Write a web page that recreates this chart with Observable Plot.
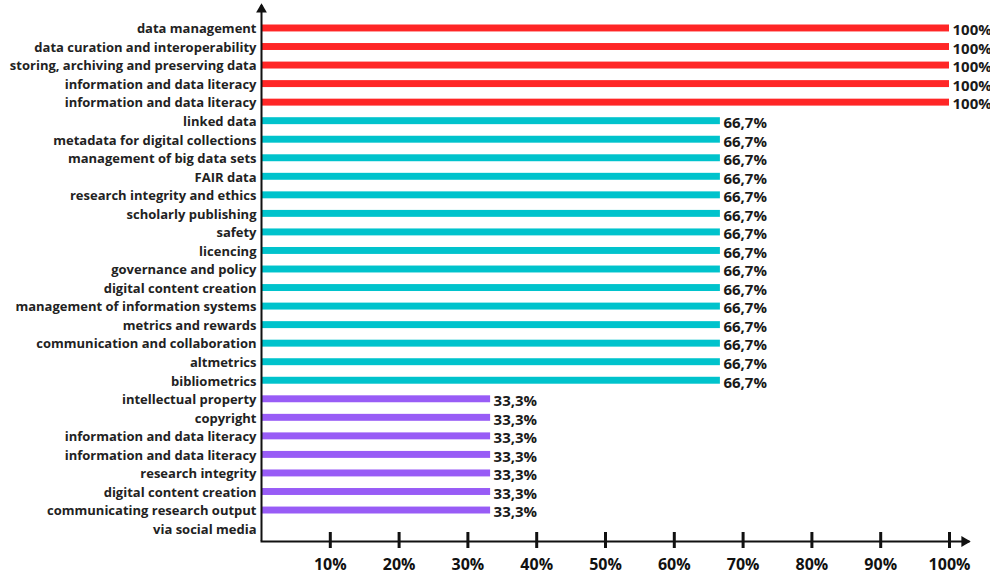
<!DOCTYPE html>
<html>
<head>
<meta charset="utf-8">
<script src="https://cdn.jsdelivr.net/npm/d3@7"></script>
<script src="https://cdn.jsdelivr.net/npm/@observablehq/plot@0.6"></script>
<style>
  html, body { margin: 0; padding: 0; background: #fff; }
  #chart svg { overflow: visible; }
</style>
</head>
<body>
<div id="chart"></div>
<script>
const categories = [
  "data management",
  "data curation and interoperability",
  "storing, archiving and preserving data",
  "information and data literacy",
  "information and data literacy",
  "linked data",
  "metadata for digital collections",
  "management of big data sets",
  "FAIR data",
  "research integrity and ethics",
  "scholarly publishing",
  "safety",
  "licencing",
  "governance and policy",
  "digital content creation",
  "management of information systems",
  "metrics and rewards",
  "communication and collaboration",
  "altmetrics",
  "bibliometrics",
  "intellectual property",
  "copyright",
  "information and data literacy",
  "information and data literacy",
  "research integrity",
  "digital content creation",
  "communicating research output\nvia social media"
];
const values = [
  100, 100, 100, 100, 100,
  66.7, 66.7, 66.7, 66.7, 66.7, 66.7, 66.7, 66.7, 66.7, 66.7, 66.7, 66.7, 66.7, 66.7, 66.7,
  33.3, 33.3, 33.3, 33.3, 33.3, 33.3, 33.3
];
const levels = [100, 66.7, 33.3];
const levelColors = ["#ff2626", "#00c3cc", "#985cf6"];
const xTicks = [10, 20, 30, 40, 50, 60, 70, 80, 90, 100];

const data = categories.map((label, i) => ({i, label, value: values[i]}));
const fmt = v => (Number.isInteger(v) ? String(v) : v.toFixed(1).replace(".", ",")) + "%";
const FONT = "'Open Sans', sans-serif";
const labelSize = 13;

const chart = Plot.plot({
  width: 990,
  height: 576,
  marginLeft: 261,
  marginRight: 22,
  marginTop: 5,
  marginBottom: 35,
  insetTop: 13.7,
  insetBottom: 21.7,
  insetRight: 19,
  style: {fontFamily: FONT, color: "#222", background: "#fff"},
  x: {domain: [0, 100], axis: null},
  y: {domain: d3.range(categories.length), type: "band", padding: 0, round: false, axis: null},
  color: {type: "ordinal", domain: levels, range: levelColors},
  marks: [
    Plot.barX(data, {x1: 0, x2: "value", y: "i", fill: "value", insetTop: 5.8, insetBottom: 5.8}),
    Plot.text(data, {
      x: 0, y: "i", text: "label", textAnchor: "end", dx: -5,
      lineAnchor: "top", dy: -0.39 * labelSize - 3.5, lineHeight: 1.45,
      fontSize: labelSize, fontWeight: "bold", fill: "#222"
    }),
    Plot.text(data, {
      x: "value", y: "i", text: d => fmt(d.value), textAnchor: "start", dx: 3, dy: 2,
      fontSize: 15, fontWeight: "bold", fill: "#1a1a1a"
    }),
    Plot.ruleX([0], {stroke: "#111", strokeWidth: 2}),
    Plot.frame({anchor: "bottom", stroke: "#111", strokeWidth: 2}),
    Plot.ruleX(xTicks, {x: d => d, insetTop: 527, insetBottom: -7, stroke: "#111", strokeWidth: 3}),
    Plot.text(xTicks, {x: d => d, text: d => d + "%", frameAnchor: "bottom", dy: 28.5, fontSize: 16, fontWeight: "bold", fill: "#111"}),
    Plot.dot([0], {frameAnchor: "top-left", symbol: "triangle", r: 4, dy: 4, fill: "#111", stroke: null}),
    Plot.dot([0], {frameAnchor: "bottom-right", symbol: "triangle", r: 4, dx: -4, rotate: 90, fill: "#111", stroke: null})
  ]
});
document.getElementById("chart").appendChild(chart);
</script>
</body>
</html>
